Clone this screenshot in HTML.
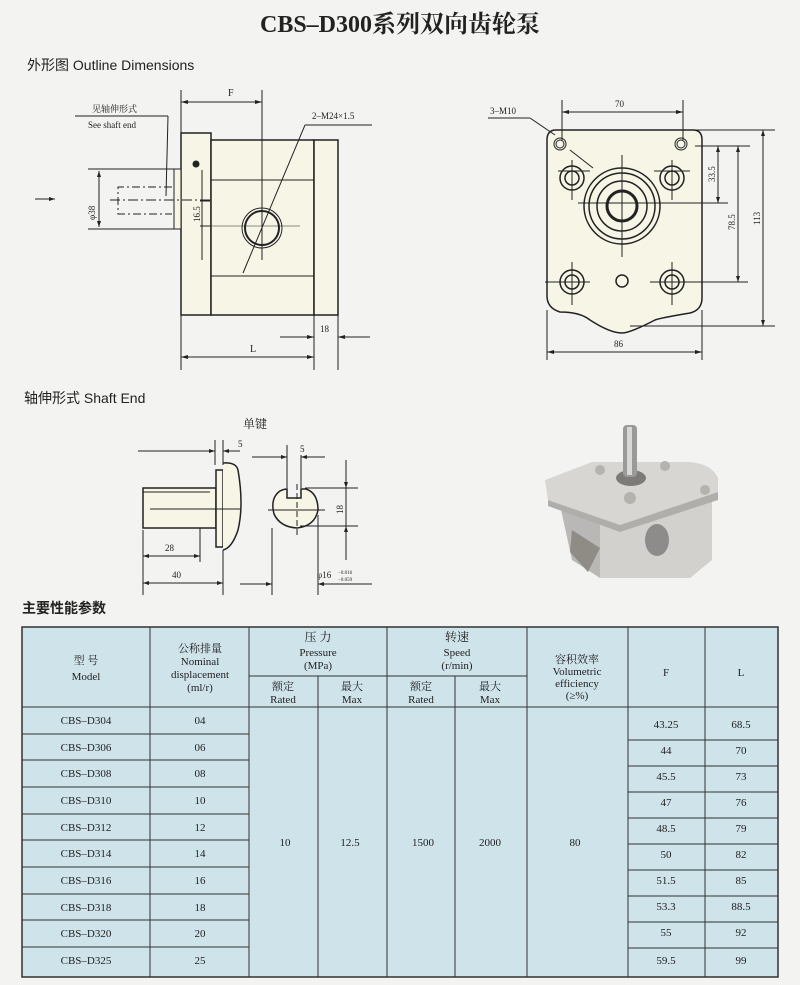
<!DOCTYPE html>
<html><head><meta charset="utf-8"><style>
body{margin:0;background:#f3f3f1;}
svg{display:block;font-family:"Liberation Serif","Noto Serif CJK SC",serif;}
.s{font-family:"Liberation Sans","Noto Sans CJK SC",sans-serif;}
</style></head><body>
<svg width="800" height="985" viewBox="0 0 800 985" xmlns="http://www.w3.org/2000/svg">
<rect width="800" height="985" fill="#f3f3f1"/>
<text x="400" y="32" text-anchor="middle" font-size="24" font-weight="bold" fill="#222">CBS–D300系列双向齿轮泵</text>
<text class="s" x="27" y="70" font-size="14" fill="#222">外形图  Outline Dimensions</text>

<!-- left view -->
<g stroke="#222" fill="none" stroke-width="1">
<rect x="181" y="133" width="30" height="182" fill="#f6f5e6" stroke-width="1.5"/>
<rect x="211" y="140" width="103" height="175" fill="#f6f5e6" stroke-width="1.5"/>
<rect x="314" y="140" width="24" height="175" fill="#f6f5e6" stroke-width="1.5"/>
<line x1="211" y1="180" x2="314" y2="180"/><line x1="211" y1="276" x2="314" y2="276"/>
<rect x="174" y="169" width="7" height="60" fill="#f6f5e6"/>
<circle cx="262" cy="228" r="17" stroke-width="2"/><circle cx="262" cy="228" r="20"/>
<line x1="200" y1="226" x2="300" y2="226" stroke-width="0.6"/>
<line x1="262" y1="90" x2="262" y2="260"/>
<line x1="181" y1="90" x2="181" y2="370"/><line x1="314" y1="315" x2="314" y2="370"/><line x1="338" y1="315" x2="338" y2="370"/>
<line x1="181" y1="102" x2="262" y2="102"/><text x="228" y="96" font-size="10" fill="#222" stroke="none">F</text>
<line x1="181" y1="357" x2="314" y2="357"/><text x="250" y="352" font-size="10" fill="#222" stroke="none">L</text>
<line x1="280" y1="337" x2="314" y2="337"/><line x1="338" y1="337" x2="370" y2="337"/><text x="320" y="332" font-size="9" fill="#222" stroke="none">18</text>
<line x1="243" y1="273" x2="305" y2="125"/><line x1="305" y1="125" x2="372" y2="125"/>
<text x="312" y="119" font-size="9" fill="#222" stroke="none">2–M24×1.5</text>
<line x1="75" y1="116" x2="168" y2="116"/><line x1="168" y1="116" x2="166" y2="196"/>
<text x="92" y="112" font-size="9" fill="#222" stroke="none">见轴伸形式</text>
<text x="88" y="128" font-size="9" fill="#222" stroke="none">See shaft end</text>
<line x1="88" y1="169" x2="174" y2="169"/><line x1="88" y1="229" x2="174" y2="229"/><line x1="99" y1="171" x2="99" y2="227"/>
<text x="0" y="0" font-size="9" fill="#222" stroke="none" transform="translate(95,220) rotate(-90)">φ38</text>
<path d="M172 187 H118 V214 H172" stroke-dasharray="8 3 2 3"/>
<line x1="110" y1="200" x2="210" y2="200" stroke-dasharray="10 3 2 3"/>
<line x1="35" y1="199" x2="55" y2="199"/>
<circle cx="196" cy="164" r="3" fill="#222"/>
<line x1="202" y1="170" x2="202" y2="260"/><line x1="200" y1="201" x2="210" y2="201"/><line x1="200" y1="226" x2="210" y2="226"/>
<text font-size="9" fill="#222" stroke="none" transform="translate(200,222) rotate(-90)">16.5</text>
</g>
<g fill="#222"><path d="M181 102 l7 -2 v4z"/><path d="M262 102 l-7 -2 v4z"/><path d="M181 357 l7 -2 v4z"/><path d="M314 357 l-7 -2 v4z"/><path d="M314 337 l-7 -2 v4z"/><path d="M338 337 l7 -2 v4z"/><path d="M55 199 l-6 -2 v4z"/><path d="M99 171 l-2 6 h4z"/><path d="M99 227 l-2 -6 h4z"/></g>

<!-- right view -->
<g stroke="#222" fill="none" stroke-width="1">
<path d="M556 130 H693 Q702 130 702 140 V298 Q702 310 690 313 Q660 318 655 320 Q630 333 622 333 Q610 333 590 320 Q580 312 560 312 Q547 308 547 296 V140 Q547 130 556 130Z" fill="#f6f5e6" stroke-width="1.5"/>
<circle cx="560" cy="144" r="6"/><circle cx="560" cy="144" r="4"/>
<circle cx="681" cy="144" r="6"/><circle cx="681" cy="144" r="4"/>
<g stroke-width="1.5"><circle cx="572" cy="178" r="12"/><circle cx="572" cy="178" r="7"/><circle cx="672" cy="178" r="12"/><circle cx="672" cy="178" r="7"/>
<circle cx="572" cy="282" r="12"/><circle cx="572" cy="282" r="7"/><circle cx="672" cy="282" r="12"/><circle cx="672" cy="282" r="7"/>
<circle cx="622" cy="206" r="38"/><circle cx="622" cy="206" r="33"/><circle cx="622" cy="206" r="25"/><circle cx="622" cy="206" r="15" stroke-width="3"/>
<circle cx="622" cy="281" r="6"/></g>
<line x1="622" y1="155" x2="622" y2="257"/><line x1="578" y1="203" x2="728" y2="203"/>
<line x1="558" y1="171" x2="590" y2="171"/><line x1="572" y1="160" x2="572" y2="200"/><line x1="654" y1="171" x2="690" y2="171"/><line x1="672" y1="160" x2="672" y2="200"/>
<line x1="545" y1="282" x2="590" y2="282"/><line x1="572" y1="262" x2="572" y2="305"/><line x1="650" y1="282" x2="748" y2="282"/><line x1="672" y1="262" x2="672" y2="305"/>
<line x1="562" y1="100" x2="562" y2="140"/><line x1="683" y1="100" x2="683" y2="140"/>
<line x1="562" y1="112" x2="683" y2="112"/><text x="615" y="107" font-size="9" fill="#222" stroke="none">70</text>
<line x1="488" y1="118" x2="530" y2="118"/><line x1="530" y1="118" x2="555" y2="135"/><text x="490" y="114" font-size="9" fill="#222" stroke="none">3–M10</text>
<line x1="593" y1="168" x2="570" y2="150"/>
<line x1="683" y1="130" x2="775" y2="130"/><line x1="695" y1="146" x2="750" y2="146"/><line x1="718" y1="146" x2="718" y2="203"/><line x1="738" y1="146" x2="738" y2="282"/>
<line x1="763" y1="130" x2="763" y2="326"/><line x1="630" y1="326" x2="775" y2="326"/>
<text font-size="9" fill="#222" stroke="none" transform="translate(715,182) rotate(-90)">33.5</text>
<text font-size="9" fill="#222" stroke="none" transform="translate(735,230) rotate(-90)">78.5</text>
<text font-size="9" fill="#222" stroke="none" transform="translate(760,225) rotate(-90)">113</text>
<line x1="547" y1="310" x2="547" y2="360"/><line x1="702" y1="310" x2="702" y2="360"/><line x1="547" y1="352" x2="702" y2="352"/>
<text x="614" y="347" font-size="9" fill="#222" stroke="none">86</text>
</g>
<g fill="#222"><path d="M562 112 l7 -2 v4z"/><path d="M683 112 l-7 -2 v4z"/><path d="M547 352 l7 -2 v4z"/><path d="M702 352 l-7 -2 v4z"/><path d="M763 130 l-2 6 h4z"/><path d="M763 326 l-2 -6 h4z"/><path d="M718 203 l-2 -6 h4z"/><path d="M738 146 l-2 6 h4z"/><path d="M738 282 l-2 -6 h4z"/><path d="M718 146 l-2 6 h4z"/></g>

<!-- shaft end -->
<text class="s" x="24" y="403" font-size="14" fill="#222">轴伸形式  Shaft End</text>
<text x="243" y="428" font-size="12" fill="#222">单键</text>
<g stroke="#222" fill="none" stroke-width="1">
<rect x="143" y="488" width="73" height="40" fill="#f6f5e6" stroke-width="1.5"/>
<line x1="143" y1="492" x2="210" y2="492"/>
<rect x="216" y="470" width="7" height="77" fill="#f6f5e6" stroke-width="1.5"/>
<path d="M223 463 Q236 462 238 470 Q244 505 238 530 Q232 548 223 550" fill="#f6f5e6" stroke-width="1.5"/>
<line x1="150" y1="509" x2="240" y2="509"/>
<line x1="215" y1="440" x2="215" y2="465"/><line x1="223" y1="440" x2="223" y2="465"/><line x1="138" y1="451" x2="215" y2="451"/><line x1="223" y1="451" x2="240" y2="451"/>
<text x="238" y="447" font-size="9" fill="#222" stroke="none">5</text>
<line x1="143" y1="530" x2="143" y2="595"/>
<line x1="143" y1="556" x2="200" y2="556"/><line x1="200" y1="528" x2="200" y2="562"/>
<text x="165" y="551" font-size="9" fill="#222" stroke="none">28</text>
<line x1="143" y1="583" x2="223" y2="583"/><line x1="223" y1="550" x2="223" y2="595"/>
<text x="172" y="578" font-size="9" fill="#222" stroke="none">40</text>
<path d="M280 491 Q270 498 274 514 Q280 527 297 528 Q315 526 318 510 Q318 493 306 489 H301 V498 H287 V489 Q284 489 280 491Z" fill="#f6f5e6" stroke-width="1.5"/>
<line x1="268" y1="510" x2="325" y2="510"/><line x1="297" y1="484" x2="297" y2="536" stroke-dasharray="6 3"/>
<line x1="287" y1="445" x2="287" y2="488"/><line x1="301" y1="455" x2="301" y2="488"/>
<line x1="252" y1="457" x2="287" y2="457"/><line x1="301" y1="457" x2="325" y2="457"/>
<text x="300" y="452" font-size="9" fill="#222" stroke="none">5</text>
<line x1="305" y1="488" x2="358" y2="488"/><line x1="300" y1="526" x2="358" y2="526"/><line x1="346" y1="460" x2="346" y2="560"/>
<text font-size="9" fill="#222" stroke="none" transform="translate(343,514) rotate(-90)">18</text>
<line x1="272" y1="528" x2="272" y2="595"/><line x1="318" y1="515" x2="318" y2="595"/>
<line x1="240" y1="584" x2="272" y2="584"/><line x1="318" y1="584" x2="372" y2="584"/>
<text x="317" y="578" font-size="9" fill="#222" stroke="none">φ16</text>
<text x="338" y="574" font-size="5" fill="#222" stroke="none">−0.016</text><text x="338" y="581" font-size="5" fill="#222" stroke="none">−0.059</text>
</g>
<g fill="#222"><path d="M215 451 l-6 -2 v4z"/><path d="M223 451 l6 -2 v4z"/><path d="M287 457 l-6 -2 v4z"/><path d="M301 457 l6 -2 v4z"/><path d="M143 556 l6 -2 v4z"/><path d="M200 556 l-6 -2 v4z"/><path d="M143 583 l6 -2 v4z"/><path d="M223 583 l-6 -2 v4z"/><path d="M272 584 l-6 -2 v4z"/><path d="M318 584 l6 -2 v4z"/><path d="M346 488 l-2 -6 h4z"/><path d="M346 526 l-2 6 h4z"/></g>

<!-- photo -->
<g>
<path d="M560 505 L600 520 V578 L572 560 Z" fill="#b9b8b6"/>
<path d="M600 520 L712 500 V560 L690 578 H600 Z" fill="#d2d1ce"/>
<path d="M545 480 L592 462 H690 Q712 464 718 478 L718 492 L620 525 L548 500 Z" fill="#d8d6d2"/>
<path d="M548 500 L620 525 L718 492 V500 L620 532 L548 506Z" fill="#b0aeaa"/>
<path d="M572 530 L600 548 L588 572 L570 552Z" fill="#8f8c85"/>
<ellipse cx="657" cy="540" rx="12" ry="16" fill="#8d8c8a"/>
<ellipse cx="631" cy="478" rx="15" ry="8" fill="#7d7b78"/>
<rect x="623" y="425" width="14" height="52" rx="4" fill="#9a9a98"/>
<rect x="627" y="427" width="5" height="48" fill="#d8d8d6"/>
<circle cx="600" cy="470" r="5" fill="#b5b3ae"/><circle cx="665" cy="466" r="5" fill="#b5b3ae"/><circle cx="705" cy="490" r="5" fill="#b5b3ae"/><circle cx="630" cy="498" r="6" fill="#b5b3ae"/>
</g>

<!-- table -->
<text class="s" x="22" y="613" font-size="14" font-weight="bold" fill="#222">主要性能参数</text>
<rect x="22" y="627" width="756" height="350" fill="#cfe3ea" stroke="#333" stroke-width="1.5"/>
<g stroke="#333" stroke-width="1" fill="none">
<line x1="22" y1="707" x2="778" y2="707"/>
<line x1="249" y1="676" x2="527" y2="676"/>
<line x1="150" y1="627" x2="150" y2="977"/><line x1="249" y1="627" x2="249" y2="977"/><line x1="318" y1="676" x2="318" y2="977"/>
<line x1="387" y1="627" x2="387" y2="977"/><line x1="455" y1="676" x2="455" y2="977"/><line x1="527" y1="627" x2="527" y2="977"/>
<line x1="628" y1="627" x2="628" y2="977"/><line x1="705" y1="627" x2="705" y2="977"/>
<line x1="22" y1="734" x2="249" y2="734"/><line x1="22" y1="760" x2="249" y2="760"/><line x1="22" y1="787" x2="249" y2="787"/><line x1="22" y1="814" x2="249" y2="814"/><line x1="22" y1="840" x2="249" y2="840"/><line x1="22" y1="867" x2="249" y2="867"/><line x1="22" y1="894" x2="249" y2="894"/><line x1="22" y1="920" x2="249" y2="920"/><line x1="22" y1="947" x2="249" y2="947"/>
<line x1="628" y1="740" x2="778" y2="740"/><line x1="628" y1="766" x2="778" y2="766"/><line x1="628" y1="792" x2="778" y2="792"/><line x1="628" y1="818" x2="778" y2="818"/><line x1="628" y1="844" x2="778" y2="844"/><line x1="628" y1="870" x2="778" y2="870"/><line x1="628" y1="896" x2="778" y2="896"/><line x1="628" y1="922" x2="778" y2="922"/><line x1="628" y1="948" x2="778" y2="948"/>
</g>
<g font-size="11" fill="#222" text-anchor="middle">
<text x="86" y="664">型 号</text><text x="86" y="680">Model</text>
<text x="200" y="652">公称排量</text><text x="200" y="665">Nominal</text><text x="200" y="678">displacement</text><text x="200" y="691">(ml/r)</text>
<text x="318" y="641" font-size="12">压 力</text><text x="318" y="656">Pressure</text><text x="318" y="669">(MPa)</text>
<text x="457" y="641" font-size="12">转速</text><text x="457" y="656">Speed</text><text x="457" y="669">(r/min)</text>
<text x="283" y="690">额定</text><text x="283" y="703">Rated</text><text x="352" y="690">最大</text><text x="352" y="703">Max</text>
<text x="421" y="690">额定</text><text x="421" y="703">Rated</text><text x="490" y="690">最大</text><text x="490" y="703">Max</text>
<text x="577" y="663">容积效率</text><text x="577" y="675">Volumetric</text><text x="577" y="687">efficiency</text><text x="577" y="699">(≥%)</text>
<text x="666" y="676">F</text><text x="741" y="676">L</text>
<text x="86" y="724">CBS–D304</text><text x="86" y="751">CBS–D306</text><text x="86" y="777">CBS–D308</text><text x="86" y="804">CBS–D310</text><text x="86" y="831">CBS–D312</text><text x="86" y="857">CBS–D314</text><text x="86" y="884">CBS–D316</text><text x="86" y="911">CBS–D318</text><text x="86" y="937">CBS–D320</text><text x="86" y="964">CBS–D325</text>
<text x="200" y="724">04</text><text x="200" y="751">06</text><text x="200" y="777">08</text><text x="200" y="804">10</text><text x="200" y="831">12</text><text x="200" y="857">14</text><text x="200" y="884">16</text><text x="200" y="911">18</text><text x="200" y="937">20</text><text x="200" y="964">25</text>
<text x="285" y="846">10</text><text x="350" y="846">12.5</text><text x="423" y="846">1500</text><text x="490" y="846">2000</text><text x="575" y="846">80</text>
<text x="666" y="728">43.25</text><text x="741" y="728">68.5</text>
<text x="666" y="754">44</text><text x="741" y="754">70</text>
<text x="666" y="780">45.5</text><text x="741" y="780">73</text>
<text x="666" y="806">47</text><text x="741" y="806">76</text>
<text x="666" y="832">48.5</text><text x="741" y="832">79</text>
<text x="666" y="858">50</text><text x="741" y="858">82</text>
<text x="666" y="884">51.5</text><text x="741" y="884">85</text>
<text x="666" y="910">53.3</text><text x="741" y="910">88.5</text>
<text x="666" y="936">55</text><text x="741" y="936">92</text>
<text x="666" y="964">59.5</text><text x="741" y="964">99</text>
</g>
</svg>
</body></html>
